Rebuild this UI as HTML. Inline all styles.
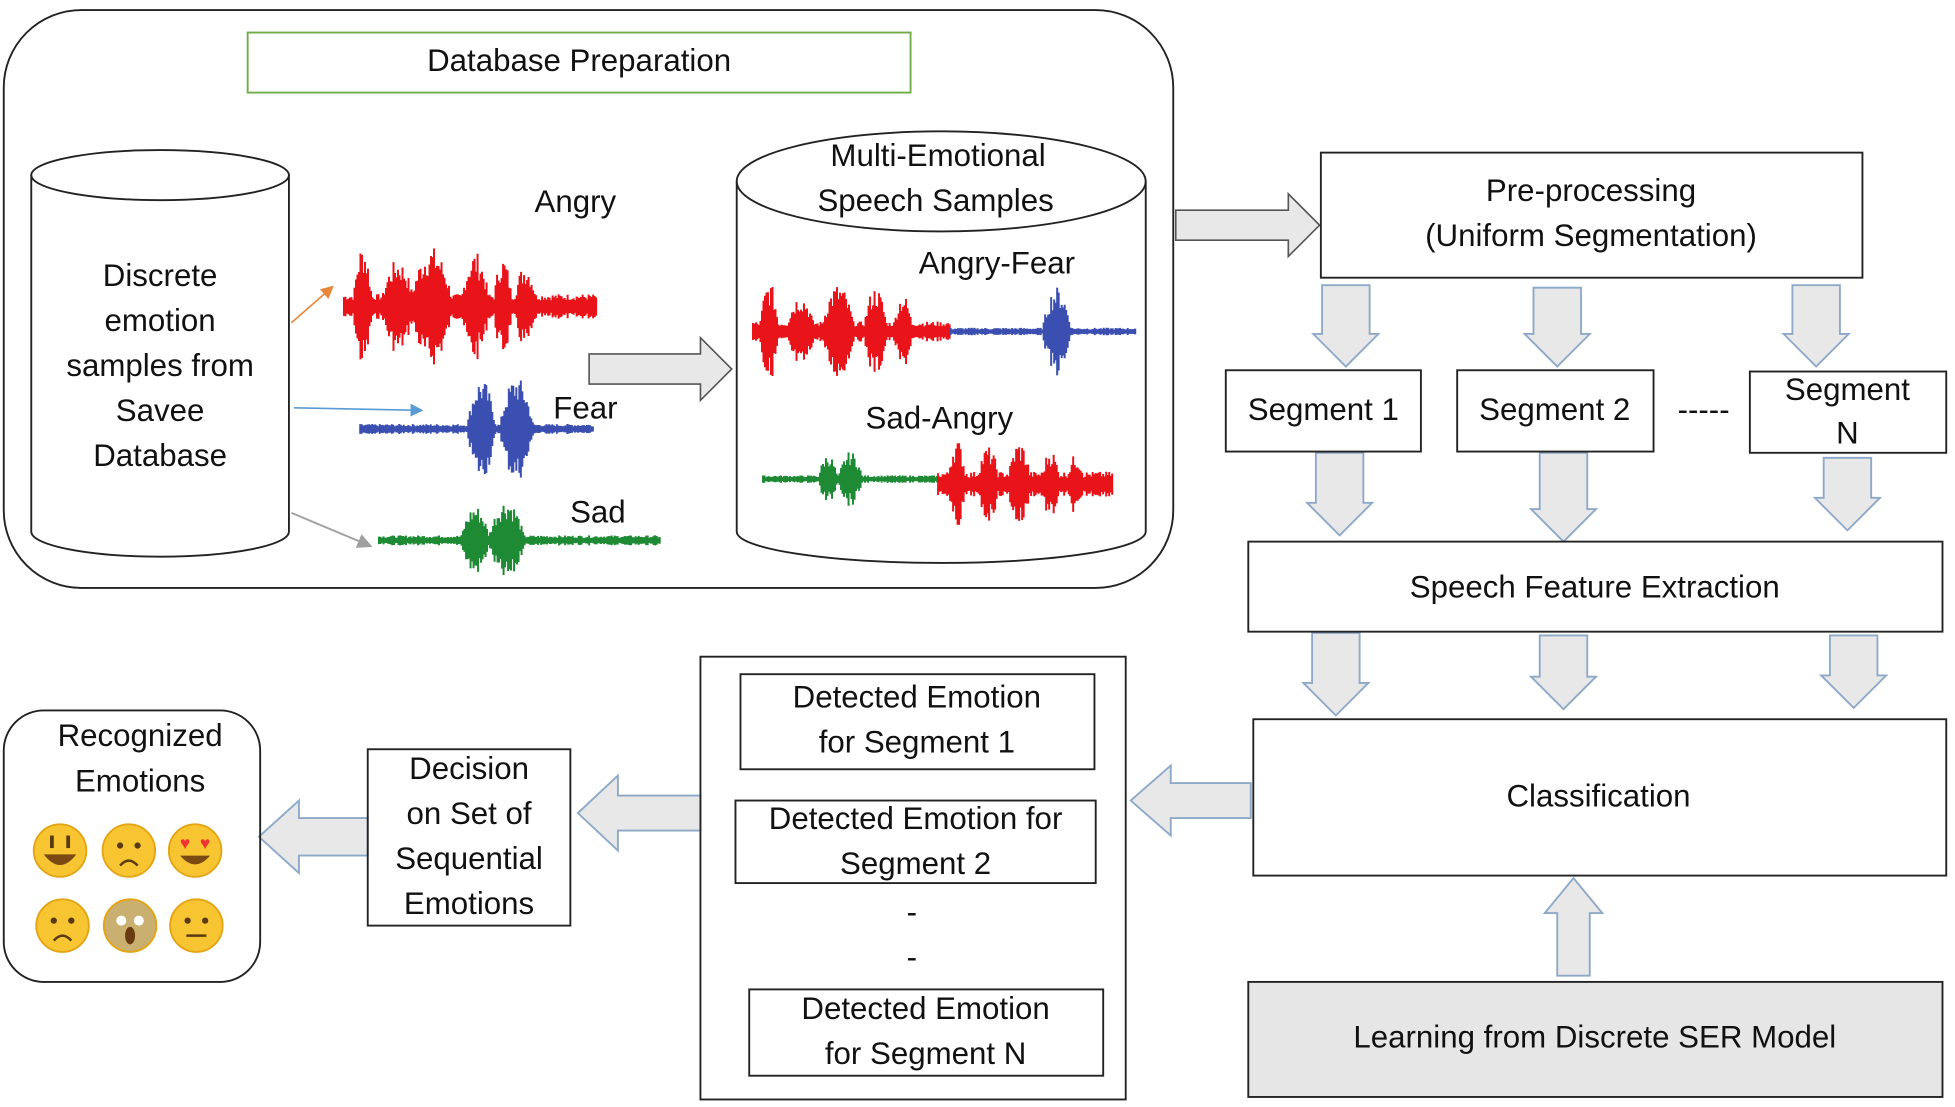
<!DOCTYPE html>
<html><head><meta charset="utf-8"><style>
html,body{margin:0;padding:0;background:#fff;}
svg{display:block;}
text{font-family:"Liberation Sans",sans-serif;font-size:25px;fill:#111;text-anchor:middle;dominant-baseline:middle;}
</style></head><body>
<svg width="1955" height="1107" viewBox="0 0 1563 885" xmlns="http://www.w3.org/2000/svg">
<defs>
<marker id="mo" markerWidth="8" markerHeight="8" refX="6" refY="4" orient="auto"><path d="M0,0L8,4L0,8z" fill="#e8863a"/></marker>
<marker id="mb" markerWidth="8" markerHeight="8" refX="6" refY="4" orient="auto"><path d="M0,0L8,4L0,8z" fill="#5b9bd5"/></marker>
<marker id="mg" markerWidth="8" markerHeight="8" refX="6" refY="4" orient="auto"><path d="M0,0L8,4L0,8z" fill="#a0a0a0"/></marker>
</defs>
<rect x="3" y="8" width="935" height="462" rx="62" fill="none" stroke="#222" stroke-width="1.5"/>
<rect x="198" y="26" width="530" height="48" fill="none" stroke="#70ad47" stroke-width="1.5"/>
<text x="463" y="50">Database Preparation</text>
<path d="M25,140 L25,425 A103,20 0 0 0 231,425 L231,140" fill="none" stroke="#222" stroke-width="1.5"/>
<ellipse cx="128" cy="140" rx="103" ry="20" fill="none" stroke="#222" stroke-width="1.5"/>
<text x="128" y="222">Discrete</text><text x="128" y="258">emotion</text><text x="128" y="294">samples from</text><text x="128" y="330">Savee</text><text x="128" y="366">Database</text>
<line x1="233" y1="258" x2="265" y2="230" stroke="#e8863a" stroke-width="1.3" marker-end="url(#mo)"/>
<line x1="235" y1="326" x2="336" y2="328" stroke="#5b9bd5" stroke-width="1.3" marker-end="url(#mb)"/>
<line x1="233" y1="410" x2="295" y2="436" stroke="#a0a0a0" stroke-width="1.5" marker-end="url(#mg)"/>
<text x="460" y="163">Angry</text><text x="468" y="328">Fear</text><text x="478" y="411">Sad</text>
<g id="waves"></g>
<path d="M471,283 L560,283 L560,270 L585,295 L560,320 L560,307 L471,307Z" fill="#e8e8e8" stroke="#555" stroke-width="1.3"/>
<path d="M589,145 L589,425 A163.5,25 0 0 0 916,425 L916,145" fill="none" stroke="#222" stroke-width="1.5"/>
<ellipse cx="752.5" cy="145" rx="163.5" ry="40" fill="none" stroke="#222" stroke-width="1.5"/>
<text x="750" y="126">Multi-Emotional</text><text x="748" y="162">Speech Samples</text>
<text x="797" y="212">Angry-Fear</text><text x="751" y="336">Sad-Angry</text>
<path d="M940,168 L1030,168 L1030,155 L1055,180 L1030,205 L1030,192 L940,192Z" fill="#e8e8e8" stroke="#555" stroke-width="1.3"/>
<rect x="1056" y="122" width="433" height="100" fill="#fff" stroke="#222" stroke-width="1.5"/>
<text x="1272" y="154">Pre-processing</text><text x="1272" y="190">(Uniform Segmentation)</text>
<g id="arrows" fill="#e8e8e8" stroke="#8ea9c8" stroke-width="1.5"></g>
<rect x="980" y="296" width="156" height="65" fill="#fff" stroke="#222" stroke-width="1.5"/><text x="1058" y="329">Segment 1</text>
<rect x="1165" y="296" width="157" height="65" fill="#fff" stroke="#222" stroke-width="1.5"/><text x="1243" y="329">Segment 2</text>
<text x="1362" y="329">-----</text>
<rect x="1399" y="297" width="157" height="65" fill="#fff" stroke="#222" stroke-width="1.5"/><text x="1477" y="313">Segment</text><text x="1477" y="348">N</text>
<rect x="998" y="433" width="555" height="72" fill="#fff" stroke="#222" stroke-width="1.5"/><text x="1275" y="471">Speech Feature Extraction</text>
<rect x="1002" y="575" width="554" height="125" fill="#fff" stroke="#222" stroke-width="1.5"/><text x="1278" y="638">Classification</text>
<rect x="998" y="785" width="555" height="92" fill="#e6e6e6" stroke="#222" stroke-width="1.5"/><text x="1275" y="831">Learning from Discrete SER Model</text>
<rect x="560" y="525" width="340" height="354" fill="none" stroke="#222" stroke-width="1.5"/>
<rect x="592" y="539" width="283" height="76" fill="none" stroke="#222" stroke-width="1.5"/><text x="733" y="559">Detected Emotion</text><text x="733" y="595">for Segment 1</text>
<rect x="588" y="640" width="288" height="66" fill="none" stroke="#222" stroke-width="1.5"/><text x="732" y="656">Detected Emotion for</text><text x="732" y="692">Segment 2</text>
<text x="729" y="731">-</text><text x="729" y="767">-</text>
<rect x="599" y="791" width="283" height="69" fill="none" stroke="#222" stroke-width="1.5"/><text x="740" y="808">Detected Emotion</text><text x="740" y="844">for Segment N</text>
<rect x="294" y="599" width="162" height="141" fill="none" stroke="#222" stroke-width="1.5"/>
<text x="375" y="616">Decision</text><text x="375" y="652">on Set of</text><text x="375" y="688">Sequential</text><text x="375" y="724">Emotions</text>
<rect x="3" y="568" width="205" height="217" rx="32" fill="none" stroke="#222" stroke-width="1.5"/>
<text x="112" y="590">Recognized</text><text x="112" y="626">Emotions</text>
<g id="emo"></g>
</svg>
<script>
var NS="http://www.w3.org/2000/svg";
function el(p,t,a){var e=document.createElementNS(NS,t);for(var k in a)e.setAttribute(k,a[k]);p.appendChild(e);return e;}
var seed=7;function rnd(){seed=(seed*9301+49297)%233280;return seed/233280;}
var A=document.getElementById('arrows');
function down(cx,y1,y2){var bw=19,hw=26,hy=y2-26;el(A,'path',{d:'M'+(cx-bw)+','+y1+'L'+(cx+bw)+','+y1+'L'+(cx+bw)+','+hy+'L'+(cx+hw)+','+hy+'L'+cx+','+y2+'L'+(cx-hw)+','+hy+'L'+(cx-bw)+','+hy+'Z'});}
function left(x1,x2,cy,bw,hw,hl){var hx=x1+hl;el(A,'path',{d:'M'+x2+','+(cy-bw)+'L'+hx+','+(cy-bw)+'L'+hx+','+(cy-hw)+'L'+x1+','+cy+'L'+hx+','+(cy+hw)+'L'+hx+','+(cy+bw)+'L'+x2+','+(cy+bw)+'Z'});}
down(1076,228,293);down(1245,230,293);down(1452,228,293);
down(1071,362,428);down(1250,362,433);down(1477,366,424);
down(1068,506,572);down(1250,508,567);down(1482,508,566);
el(A,'path',{d:'M1245,780L1245,730L1235,730L1258,702L1281,730L1271,730L1271,780Z'});
left(904,1000,640,14,28,32);left(462,560,650,14,30,32);left(207,294,669,15,29,32);
var W=document.getElementById('waves');
function wave(x0,x1,cy,col,env){var d='';for(var x=x0;x<=x1;x+=1.2){var a=env(x)*(0.5+0.5*rnd());d+='M'+x.toFixed(1)+','+(cy-a).toFixed(1)+'L'+x.toFixed(1)+','+(cy+a).toFixed(1);}el(W,'path',{d:d,stroke:col,'stroke-width':1.6,fill:'none'});}
function bursts(list,base){return function(x){var m=base;list.forEach(function(b){var t=(x-b[0])/b[1];if(t>-1&&t<1)m=Math.max(m,b[2]*(1-t*t));});return m;};}
wave(275,477,245,'#e8141a',bursts([[290,8,50],[318,14,38],[345,18,48],[380,12,44],[402,8,40],[420,10,34]],10));
wave(288,475,343,'#3a4fb0',bursts([[385,12,40],[413,14,42]],4));
wave(303,528,432,'#1e8a34',bursts([[380,12,28],[405,15,33]],4));
wave(602,760,265,'#e8141a',bursts([[615,8,40],[640,12,30],[670,14,38],[700,10,36],[722,8,30]],8));
wave(760,908,265,'#3a4fb0',bursts([[845,12,36]],3));
wave(610,750,383,'#1e8a34',bursts([[662,8,20],[680,10,22]],3));
wave(750,890,387,'#e8141a',bursts([[765,8,36],[790,10,30],[815,10,34],[840,8,28],[860,8,24]],10));
var E=document.getElementById('emo');
[[48,680],[103,680],[156,680],[50,740],[104,740],[157,740]].forEach(function(p,i){
 el(E,'circle',{cx:p[0],cy:p[1],r:21,fill:i==4?'#c9b070':'#f7c531',stroke:'#e3a415','stroke-width':1.5});
 var c=p[0],y=p[1];
 if(i==0){el(E,'path',{d:'M'+(c-13)+','+(y+3)+'Q'+c+','+(y+20)+' '+(c+13)+','+(y+3)+'Z',fill:'#7a4a12'});el(E,'rect',{x:c-8,y:y-12,width:3,height:10,fill:'#5a3a10'});el(E,'rect',{x:c+5,y:y-12,width:3,height:10,fill:'#5a3a10'});}
 if(i==2){el(E,'text',{x:c-8,y:y-5,style:'font-size:14px;fill:#e33'}).textContent='\u2665';el(E,'text',{x:c+8,y:y-5,style:'font-size:14px;fill:#e33'}).textContent='\u2665';el(E,'path',{d:'M'+(c-12)+','+(y+4)+'Q'+c+','+(y+18)+' '+(c+12)+','+(y+4)+'Z',fill:'#7a4a12'});}
 if(i==1||i==3){el(E,'circle',{cx:c-7,cy:y-4,r:2.5,fill:'#5a3a10'});el(E,'circle',{cx:c+7,cy:y-4,r:2.5,fill:'#5a3a10'});el(E,'path',{d:'M'+(c-7)+','+(y+12)+'Q'+c+','+(y+4)+' '+(c+7)+','+(y+12),stroke:'#5a3a10','stroke-width':2,fill:'none'});}
 if(i==4){el(E,'ellipse',{cx:c,cy:y+8,rx:4,ry:7,fill:'#6a3a10'});el(E,'circle',{cx:c-7,cy:y-4,r:4,fill:'#fff'});el(E,'circle',{cx:c+7,cy:y-4,r:4,fill:'#fff'});}
 if(i==5){el(E,'circle',{cx:c-7,cy:y-4,r:2.5,fill:'#5a3a10'});el(E,'circle',{cx:c+7,cy:y-4,r:2.5,fill:'#5a3a10'});el(E,'line',{x1:c-8,y1:y+8,x2:c+8,y2:y+8,stroke:'#5a3a10','stroke-width':2});}
});
</script>
</body></html>
